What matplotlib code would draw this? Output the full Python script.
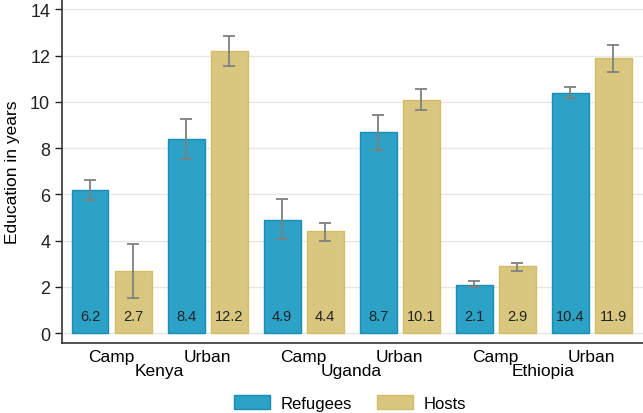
import matplotlib.pyplot as plt
import numpy as np

plt.rcParams['font.family'] = ['Liberation Sans', 'DejaVu Sans']

# data
countries = ['Kenya', 'Uganda', 'Ethiopia']
settings = ['Camp', 'Urban']
refugees = [6.2, 8.4, 4.9, 8.7, 2.1, 10.4]
hosts = [2.7, 12.2, 4.4, 10.1, 2.9, 11.9]
refugees_lo = [5.75, 7.55, 4.05, 7.9, 2.0, 10.15]
refugees_hi = [6.6, 9.25, 5.8, 9.45, 2.25, 10.65]
hosts_lo = [1.5, 11.55, 4.0, 9.65, 2.7, 11.3]
hosts_hi = [3.85, 12.85, 4.75, 10.55, 3.05, 12.45]

ref_color = '#2CA2C7'
ref_edge = '#1A8BB5'
host_color = '#D9C780'
host_edge = '#D2BC66'
err_color = '#7F7F7F'

fig = plt.figure(figsize=(6.43, 4.14), dpi=100)
ax = fig.add_axes([0.0964, 0.169, 0.9036, 0.831])

x = np.arange(len(refugees))
off = 0.224
w = 0.385

ax.bar(x - off, refugees, w, color=ref_color, edgecolor=ref_edge, linewidth=1, zorder=2, label='Refugees')
ax.bar(x + off, hosts, w, color=host_color, edgecolor=host_edge, linewidth=1, zorder=2, label='Hosts')

r = np.array(refugees)
h = np.array(hosts)
ax.errorbar(x - off, r, yerr=[r - np.array(refugees_lo), np.array(refugees_hi) - r],
            fmt='none', ecolor=err_color, elinewidth=1.3, capsize=4, capthick=1.3, zorder=3)
ax.errorbar(x + off, h, yerr=[h - np.array(hosts_lo), np.array(hosts_hi) - h],
            fmt='none', ecolor=err_color, elinewidth=1.3, capsize=4, capthick=1.3, zorder=3)

# value labels inside bars
for xi, v in zip(x - off, refugees):
    ax.text(xi, 0.72, f'{v:.1f}', ha='center', va='center', fontsize=10.5, color='#222222', zorder=4)
for xi, v in zip(x + off, hosts):
    ax.text(xi, 0.72, f'{v:.1f}', ha='center', va='center', fontsize=10.5, color='#222222', zorder=4)

ax.set_xlim(-0.516, 5.536)
ax.set_ylim(-0.43, 14.45)
ax.set_yticks(np.arange(0, 15, 2))
ax.tick_params(axis='y', labelsize=13, length=5, width=1, colors='#222222')
ax.set_ylabel('Education in years', fontsize=12.5, labelpad=7)
ax.grid(axis='y', color='#E8E8E8', linewidth=1, zorder=0)
ax.set_axisbelow(True)

# x labels: setting and country
ax.set_xticks(x)
ax.set_xticklabels(settings * len(countries), fontsize=12.5)
ax.tick_params(axis='x', length=0, pad=4)
for i, c in enumerate(countries):
    ax.text(2 * i + 0.5, -0.079, c, transform=ax.get_xaxis_transform(), ha='center', va='center', fontsize=12.5)

for s in ['top', 'right']:
    ax.spines[s].set_visible(False)
ax.spines['left'].set_color('#333333')
ax.spines['bottom'].set_color('#333333')
ax.spines['left'].set_linewidth(1.2)
ax.spines['bottom'].set_linewidth(1.2)

fig.legend(loc='center', bbox_to_anchor=(0.544, 0.025), ncol=2, frameon=False, fontsize=12,
           handlelength=2.2, handleheight=1.0, handletextpad=0.6, columnspacing=1.5)

fig.savefig('out.png', dpi=100)
